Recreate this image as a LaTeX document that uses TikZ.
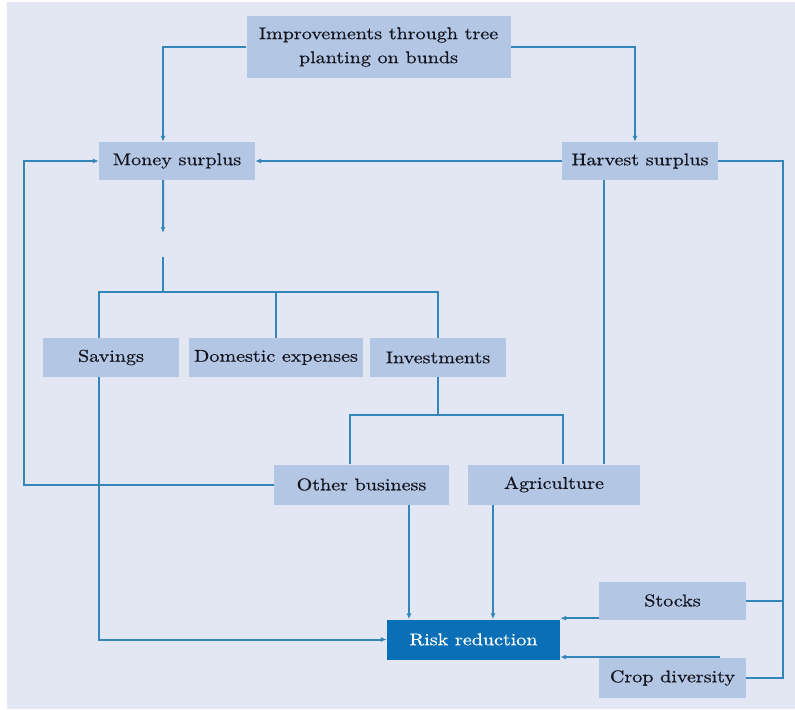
\documentclass[tikz,border=0pt]{standalone}
\usepackage{fontspec}
\setmainfont{lmroman10-regular.otf}[FakeStretch=1.18,FakeBold=0.6]
\usetikzlibrary{arrows.meta,calc}
\definecolor{bg}{HTML}{E3E7F4}
\definecolor{boxc}{HTML}{B3C7E5}
\definecolor{linec}{HTML}{3485B8}
\definecolor{riskc}{HTML}{0A6FB6}
\definecolor{txt}{HTML}{14141F}
\begin{document}
\begin{tikzpicture}[x=1bp,y=-1bp,
 box/.style={fill=boxc,draw=none,inner sep=0pt,text=txt,font=\fontsize{17bp}{24bp}\selectfont,align=center},
 link/.style={draw=linec,line width=2bp},
 arr/.style={link,-{Latex[length=6bp,width=5bp]}}]
\useasboundingbox (0,0) rectangle (795,710);
\fill[white] (0,0) rectangle (795,710);
\fill[bg] (7,2) rectangle (795,709);

\node[box,minimum width=264bp,minimum height=62bp] (imp) at (378.5,47) {Improvements through tree\\planting on bunds};
\node[box,minimum width=156bp,minimum height=38bp] (money) at (177,161) {Money surplus};
\node[box,minimum width=156bp,minimum height=38bp] (harvest) at (640,161) {Harvest surplus};
\node[box,minimum width=136bp,minimum height=39bp] (savings) at (111,357.5) {Savings};
\node[box,minimum width=174bp,minimum height=39bp] (domestic) at (276,357.5) {Domestic expenses};
\node[box,minimum width=136bp,minimum height=39bp] (invest) at (438,357.5) {Investments};
\node[box,minimum width=175bp,minimum height=40bp] (other) at (361.5,484.5) {Other business};
\node[box,minimum width=172bp,minimum height=40bp] (agri) at (554,484.5) {Agriculture};
\node[box,minimum width=173bp,minimum height=40bp,fill=riskc,text=white] (risk) at (473.5,639.5) {Risk reduction};
\node[box,minimum width=147bp,minimum height=38bp] (stocks) at (672.5,600.5) {Stocks};
\node[box,minimum width=147bp,minimum height=40bp] (crop) at (672.5,678) {Crop diversity};

\coordinate (lft) at (24,161);
\coordinate (mend) at (163,233);
\coordinate (mstart) at (163,257);
\coordinate (j1) at (163,292);
\coordinate (j2) at (438,415);
\coordinate (rt) at (783,161);
\coordinate (cs) at (720,657);

\draw[arr] (imp.west) -| ([xshift=-14bp]money.north);
\draw[arr] (imp.east) -| ([xshift=-5bp]harvest.north);
\draw[arr] (harvest.west) -- (money.east);
\draw[arr] (other.west) -| (lft) -- (money.west);
\draw[arr] ([xshift=-14bp]money.south) -- (mend);
\draw[link] (mstart) -- (j1);
\draw[link] ([xshift=-12bp]savings.north) |- (invest.north |- j1) -- (invest.north);
\draw[link] (domestic.north) -- (domestic.north |- j1);
\draw[link] (invest.south) -- (j2);
\draw[link] ([xshift=-11.5bp]other.north) |- ([xshift=9bp]agri.north |- j2) -- ([xshift=9bp]agri.north);
\draw[link] ([xshift=-36bp]harvest.south) -- ([xshift=-36bp]harvest.south |- agri.north);
\draw[link] (harvest.east) -- (rt) -- (rt |- crop.east) -- (crop.east);
\draw[link] (stocks.east) -- (stocks.east -| rt);
\draw[arr] ([xshift=-12bp]savings.south) |- (risk.west);
\draw[arr] ([xshift=47.5bp]other.south) -- ([xshift=47.5bp]other.south |- risk.north);
\draw[arr] ([xshift=-61bp]agri.south) -- ([xshift=-61bp]agri.south |- risk.north);
\draw[arr] ([yshift=1.5bp]stocks.south west) -- ([yshift=1.5bp]stocks.south west -| risk.east);
\draw[arr] (cs) -- (cs -| risk.east);
\end{tikzpicture}
\end{document}
